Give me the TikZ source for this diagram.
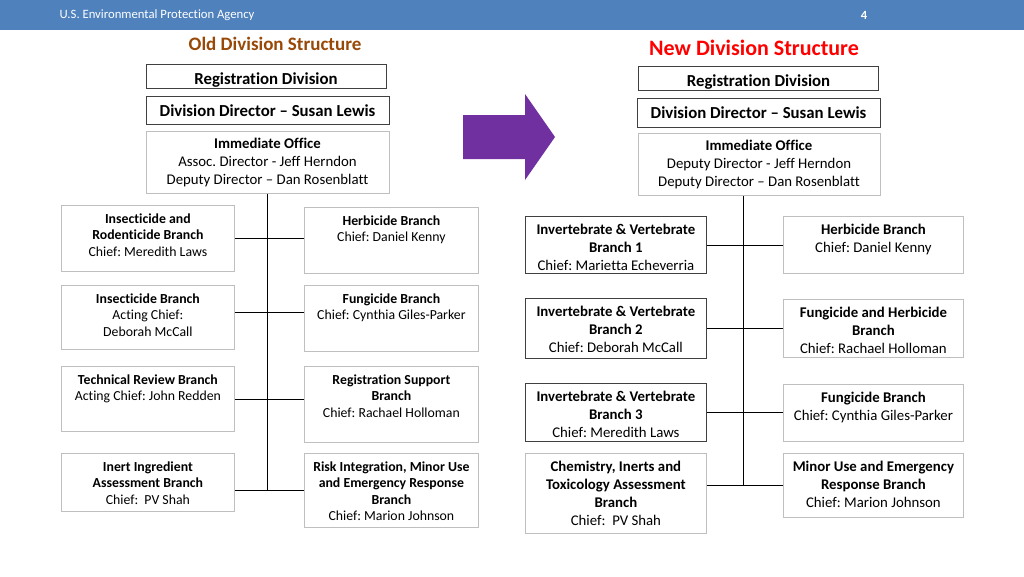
\documentclass[tikz,border=0pt]{standalone}
\usepackage{fontspec}
\setmainfont{Carlito}[Ligatures={TeX,NoCommon}]
\usetikzlibrary{positioning}
\definecolor{hdrblue}{RGB}{79,129,189}
\definecolor{oldbrown}{RGB}{152,72,7}
\definecolor{arrowpurple}{RGB}{112,48,160}
\definecolor{lightframe}{RGB}{191,191,191}
\definecolor{darkframe}{RGB}{64,64,64}
\frenchspacing

\begin{document}
\begin{tikzpicture}[x=1pt,y=-1pt]
\tikzstyle{topbox}=[draw=darkframe, line width=1pt, anchor=north, inner sep=0pt, font=\fontsize{16.8}{20}\selectfont\bfseries]
\tikzstyle{officebox}=[draw=lightframe, line width=0.8pt, anchor=north, inner sep=0pt, align=center, font=\fontsize{14.8}{18}\selectfont]
\tikzstyle{oldtxt}=[font=\fontsize{13.8}{16.5}\selectfont]
\tikzstyle{newtxt}=[font=\fontsize{14.8}{18}\selectfont]
\tikzset{branch/.style n args={3}{draw=#1, line width=0.8pt, inner sep=0pt, anchor=north west,
  execute at begin node={\begin{minipage}[t][#3][t]{#2}\centering\vspace*{8pt}},
  execute at end node={\end{minipage}}}}
\useasboundingbox (0,0) rectangle (1024,576);
\fill[white] (0,0) rectangle (1024,576);
% header bar
\fill[hdrblue] (0,0) rectangle (1024,30);
\node[white, anchor=west, font=\fontsize{12.7}{14}\selectfont] (agency) at (56,15.5) {U.S. Environmental Protection Agency};
\node[white, font=\fontsize{12.5}{14}\selectfont\bfseries] (pagenum) at (864,15) {4};

% old structure
\node[text=oldbrown, font=\fontsize{19}{22}\selectfont\bfseries] (oldtitle) at (275,44) {Old Division Structure};
\node[topbox, minimum width=240pt, minimum height=24pt, text height=17pt, text depth=1pt] (oreg) at (266,64) {Registration Division};
\node[topbox, minimum width=243pt, minimum height=28pt] (odir) at (267.5,96) {Division Director – Susan Lewis};
\node[officebox, minimum width=243pt, minimum height=62pt] (oimo) at (267.5,131) {\textbf{Immediate Office}\\Assoc. Director - Jeff Herndon\\Deputy Director – Dan Rosenblatt};

\node[branch={lightframe}{173pt}{66pt}, oldtxt] (oinsrod) at (61,205) {\textbf{Insecticide and}\\\textbf{Rodenticide Branch}\\Chief: Meredith Laws};
\node[branch={lightframe}{173pt}{64pt}, oldtxt] (oins) at (61,285) {\textbf{Insecticide Branch}\\Acting Chief:\\Deborah McCall};
\node[branch={lightframe}{173pt}{65pt}, oldtxt] (otech) at (61,366) {\textbf{Technical Review Branch}\\Acting Chief: John Redden};
\node[branch={lightframe}{173pt}{58pt}, oldtxt] (oinert) at (61,453) {\textbf{Inert Ingredient}\\\textbf{Assessment Branch}\\Chief:~ PV Shah};
\node[branch={lightframe}{174pt}{66pt}, oldtxt] (oherb) at (304,207) {\textbf{Herbicide Branch}\\Chief: Daniel Kenny};
\node[branch={lightframe}{174pt}{66pt}, oldtxt] (ofung) at (304,285) {\textbf{Fungicide Branch}\\Chief: Cynthia Giles-Parker};
\node[branch={lightframe}{174pt}{76pt}, oldtxt] (oregsup) at (304,366) {\textbf{Registration Support}\\\textbf{Branch}\\Chief: Rachael Holloman};
\node[branch={lightframe}{174pt}{74pt}, oldtxt] (orisk) at (304,453) {\textbf{Risk Integration, Minor Use}\\\textbf{and Emergency Response}\\\textbf{Branch}\\Chief: Marion Johnson};

\draw (oimo.south) -- (oimo.south |- orisk.west);
\draw (oinsrod.east) -- (oinsrod.east -| oherb.west);
\draw ([yshift=5pt]oins.east) -- ([yshift=5pt]oins.east -| ofung.west);
\draw (otech.east) -- (otech.east -| oregsup.west);
\draw (oinert.east |- orisk.west) -- (orisk.west);

% arrow
\fill[arrowpurple] (463,115) -- (525,115) -- (525,94) -- (555,137) -- (525,180) -- (525,159) -- (463,159) -- cycle;

% new structure
\node[text=red, font=\fontsize{22}{26}\selectfont\bfseries] (newtitle) at (754,48) {New Division Structure};
\node[topbox, minimum width=240pt, minimum height=24pt, text height=17pt, text depth=1pt] (nreg) at (758.5,66) {Registration Division};
\node[topbox, minimum width=243pt, minimum height=29pt] (ndir) at (758.5,98) {Division Director – Susan Lewis};
\node[officebox, minimum width=242pt, minimum height=62pt] (nimo) at (759,133) {\textbf{Immediate Office}\\Deputy Director - Jeff Herndon\\Deputy Director – Dan Rosenblatt};

\node[branch={darkframe}{181pt}{57pt}, newtxt] (niv1) at (525,216) {\textbf{Invertebrate \& Vertebrate}\\\textbf{Branch 1}\\Chief: Marietta Echeverria};
\node[branch={darkframe}{181pt}{60pt}, newtxt] (niv2) at (525,298) {\textbf{Invertebrate \& Vertebrate}\\\textbf{Branch 2}\\Chief: Deborah McCall};
\node[branch={darkframe}{181pt}{58pt}, newtxt] (niv3) at (525,383) {\textbf{Invertebrate \& Vertebrate}\\\textbf{Branch 3}\\Chief: Meredith Laws};
\node[branch={lightframe}{181pt}{80pt}, newtxt] (nchem) at (525,453) {\textbf{Chemistry, Inerts and}\\\textbf{Toxicology Assessment}\\\textbf{Branch}\\Chief:~ PV Shah};
\node[branch={lightframe}{180pt}{57pt}, newtxt] (nherb) at (783,216) {\textbf{Herbicide Branch}\\Chief: Daniel Kenny};
\node[branch={lightframe}{180pt}{58pt}, newtxt] (nfh) at (783,299) {\textbf{Fungicide and Herbicide}\\\textbf{Branch}\\Chief: Rachael Holloman};
\node[branch={lightframe}{180pt}{57pt}, newtxt] (nfung) at (783,384) {\textbf{Fungicide Branch}\\Chief: Cynthia Giles-Parker};
\node[branch={lightframe}{180pt}{64pt}, newtxt] (nminor) at (783,453) {\textbf{Minor Use and Emergency}\\\textbf{Response Branch}\\Chief: Marion Johnson};

\coordinate (ntrunk) at ([xshift=-16pt]nimo.south);
\draw (ntrunk) -- (ntrunk |- nminor.west);
\draw (niv1.east) -- (niv1.east -| nherb.west);
\draw (niv2.east) -- (niv2.east -| nfh.west);
\draw (niv3.east) -- (niv3.east -| nfung.west);
\draw (nchem.east |- nminor.west) -- (nminor.west);
\end{tikzpicture}
\end{document}
